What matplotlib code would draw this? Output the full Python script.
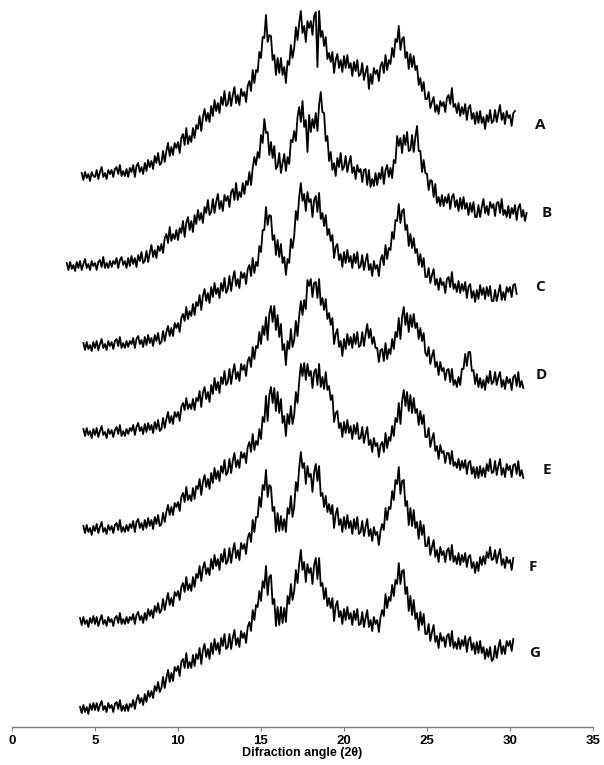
import numpy as np
import matplotlib
matplotlib.use("Agg")
import matplotlib.pyplot as plt

# ---- data: diffraction intensities (arbitrary units), 0.1 deg step ----
step = 0.1
labels = ["A", "B", "C", "D", "E", "F", "G"]
starts = [4.2, 3.3, 4.3, 4.3, 4.3, 4.1, 4.1]

int_A = [4, -3, 5, -1, 3, -4, 5, 1,
    0, 7, -2, 5, 10, 0, 4, -2, 7, 3,
    7, 0, 8, 10, 3, 12, 1, 6, 1, 8,
    0, 9, 5, 12, 0, 11, 14, 5, 10, 3,
    14, 6, 17, 10, 16, 8, 21, 14, 24, 12,
    14, 26, 15, 26, 34, 21, 30, 22, 34, 29,
    35, 24, 39, 43, 32, 49, 33, 41, 35, 49,
    39, 52, 48, 61, 46, 60, 68, 56, 64, 55,
    71, 61, 77, 66, 74, 64, 80, 72, 86, 71,
    73, 85, 71, 82, 90, 74, 82, 72, 88, 81,
    85, 75, 91, 96, 86, 107, 94, 107, 105, 125,
    119, 140, 139, 162, 135, 142, 141, 117, 122, 102,
    119, 104, 119, 102, 110, 94, 116, 112, 132, 119,
    129, 150, 137, 154, 166, 144, 151, 135, 156, 149,
    156, 142, 161, 165, 110, 166, 140, 146, 131, 140,
    118, 124, 115, 125, 104, 117, 123, 109, 117, 105,
    121, 109, 122, 109, 114, 101, 115, 106, 117, 101,
    103, 114, 97, 105, 111, 88, 103, 93, 109, 103,
    107, 96, 111, 115, 104, 122, 107, 117, 113, 129,
    120, 138, 135, 151, 127, 138, 140, 119, 125, 108,
    123, 110, 121, 107, 111, 92, 99, 86, 95, 78,
    78, 85, 69, 75, 80, 65, 72, 63, 76, 71,
    75, 65, 79, 82, 73, 89, 70, 73, 64, 74,
    61, 70, 63, 73, 57, 69, 72, 58, 64, 53,
    65, 54, 66, 54, 60, 48, 62, 55, 67, 54,
    56, 67, 55, 64, 72, 57, 64, 53, 66, 59,
    62, 51, 64, 66]

int_B = [4, -3, 5, -2, 2, -4, 5,
    -1, 6, -3, 3, 8, -1, 3, -3, 6, 1,
    4, -3, 5, 7, 0, 10, -1, 4, -1, 6,
    0, 6, 3, 9, -1, 7, 10, 2, 6, -1,
    9, 1, 11, 3, 9, 0, 12, 6, 15, 4,
    6, 16, 5, 14, 22, 10, 17, 9, 21, 16,
    23, 14, 29, 33, 24, 40, 26, 33, 28, 37,
    27, 39, 34, 46, 30, 44, 50, 37, 46, 35,
    52, 43, 57, 47, 54, 44, 60, 54, 67, 52,
    55, 68, 54, 65, 73, 58, 66, 56, 72, 66,
    71, 60, 75, 78, 67, 84, 67, 75, 70, 84,
    73, 86, 82, 95, 82, 99, 110, 102, 115, 109,
    132, 124, 148, 134, 135, 112, 125, 109, 121, 98,
    101, 114, 94, 104, 113, 96, 110, 103, 127, 125,
    136, 126, 150, 160, 145, 166, 140, 147, 115, 152,
    135, 148, 139, 154, 136, 162, 175, 155, 154, 126,
    131, 106, 115, 97, 104, 91, 109, 100, 114, 97,
    100, 111, 95, 104, 111, 94, 100, 88, 102, 95,
    98, 85, 97, 98, 82, 97, 80, 88, 81, 94,
    82, 94, 88, 100, 83, 97, 102, 90, 99, 89,
    107, 104, 131, 121, 129, 114, 132, 122, 135, 116,
    117, 132, 115, 130, 141, 116, 116, 95, 107, 94,
    93, 77, 87, 86, 70, 83, 64, 70, 61, 72,
    61, 70, 64, 73, 58, 70, 73, 60, 67, 56,
    69, 58, 70, 58, 64, 52, 64, 55, 65, 50,
    50, 62, 50, 60, 68, 54, 61, 52, 65, 59,
    63, 51, 64, 65, 54, 68, 52, 57, 50, 61,
    49, 59, 53, 62, 47, 59, 63, 50, 57, 46,
    54]

int_C = [4, -3, 5, -2, 2, -4, 5,
    -1, 6, -3, 3, 8, -1, 3, -3, 6, 1,
    5, -2, 6, 8, 1, 10, -1, 4, -1, 6,
    0, 6, 3, 9, -1, 8, 11, 3, 7, 0,
    10, 2, 12, 4, 9, 1, 12, 6, 14, 3,
    5, 16, 6, 15, 21, 11, 19, 11, 24, 19,
    24, 15, 29, 33, 26, 40, 28, 36, 31, 43,
    32, 45, 41, 52, 37, 51, 58, 46, 54, 44,
    60, 50, 64, 53, 59, 49, 64, 56, 69, 54,
    58, 71, 56, 68, 76, 61, 68, 59, 75, 69,
    74, 63, 78, 82, 71, 89, 74, 85, 81, 101,
    95, 117, 117, 140, 122, 132, 131, 107, 112, 92,
    107, 90, 103, 84, 90, 72, 88, 84, 108, 99,
    111, 136, 127, 150, 164, 146, 153, 136, 155, 145,
    148, 130, 147, 151, 135, 154, 128, 134, 121, 132,
    112, 118, 106, 112, 89, 100, 103, 87, 93, 80,
    95, 84, 97, 85, 91, 79, 93, 84, 95, 79,
    81, 92, 77, 86, 93, 77, 83, 71, 86, 78,
    82, 71, 87, 92, 82, 102, 88, 99, 97, 115,
    108, 127, 126, 143, 124, 136, 138, 117, 122, 101,
    113, 99, 109, 94, 98, 82, 93, 80, 89, 70,
    70, 79, 64, 72, 78, 62, 68, 57, 69, 62,
    65, 54, 68, 70, 60, 75, 58, 63, 55, 66,
    54, 63, 56, 65, 49, 60, 63, 49, 56, 45,
    57, 48, 62, 52, 59, 48, 60, 51, 61, 46,
    46, 57, 46, 54, 62, 47, 55, 47, 60, 55,
    60, 50, 62, 63, 53]

int_D = [6, -1, 7, 0, 4, -3, 6,
    0, 7, -2, 4, 9, 0, 3, -3, 6, 1,
    5, -2, 5, 8, 1, 10, -1, 4, -1, 6,
    1, 7, 4, 10, 0, 8, 12, 4, 8, 1,
    11, 3, 12, 5, 10, 2, 13, 6, 15, 4,
    6, 17, 7, 16, 23, 12, 19, 11, 23, 18,
    23, 14, 28, 32, 25, 37, 26, 31, 26, 36,
    25, 37, 34, 44, 28, 42, 48, 36, 43, 33,
    50, 41, 57, 45, 53, 42, 58, 51, 64, 50,
    53, 66, 51, 63, 71, 56, 63, 54, 71, 65,
    70, 59, 74, 78, 68, 88, 76, 89, 87, 103,
    91, 109, 100, 118, 95, 121, 129, 113, 129, 105,
    120, 98, 111, 85, 91, 70, 94, 86, 106, 88,
    95, 114, 99, 119, 134, 120, 135, 126, 155, 149,
    156, 138, 152, 153, 137, 156, 130, 137, 125, 136,
    116, 122, 110, 117, 91, 101, 106, 88, 94, 79,
    96, 86, 101, 90, 98, 87, 101, 91, 103, 88,
    90, 103, 89, 101, 111, 97, 106, 91, 98, 87,
    87, 73, 85, 86, 74, 92, 76, 86, 81, 96,
    86, 103, 98, 117, 96, 118, 128, 110, 122, 103,
    120, 108, 121, 107, 112, 96, 107, 94, 102, 82,
    79, 88, 71, 79, 85, 68, 73, 60, 73, 64,
    67, 55, 65, 66, 53, 66, 50, 55, 48, 58,
    50, 66, 66, 81, 69, 83, 83, 64, 65, 51,
    61, 48, 57, 47, 55, 45, 59, 52, 64, 51,
    53, 63, 50, 58, 63, 48, 55, 46, 58, 52,
    56, 45, 58, 60, 49, 63, 48, 54, 47]

int_E = [4, -3, 5, -2, 2, -5, 4,
    -1, 6, -3, 3, 8, -2, 2, -4, 5, 0,
    4, -3, 5, 7, 0, 10, -2, 3, -2, 5,
    -1, 6, 2, 9, -2, 8, 11, 2, 7, 0,
    10, 2, 12, 4, 10, 1, 13, 6, 15, 4,
    6, 17, 8, 18, 25, 15, 23, 15, 27, 23,
    28, 19, 33, 37, 28, 43, 30, 35, 29, 42,
    31, 44, 41, 51, 35, 48, 55, 43, 51, 41,
    57, 47, 62, 51, 59, 49, 64, 57, 70, 55,
    58, 71, 57, 69, 77, 63, 70, 62, 78, 72,
    77, 67, 83, 88, 78, 96, 80, 89, 85, 101,
    91, 113, 108, 134, 109, 135, 143, 127, 142, 119,
    138, 117, 131, 107, 114, 94, 116, 106, 124, 106,
    115, 138, 127, 148, 166, 154, 167, 150, 166, 154,
    159, 142, 158, 161, 145, 166, 143, 153, 141, 158,
    140, 144, 130, 135, 108, 117, 119, 102, 107, 93,
    108, 97, 110, 97, 104, 91, 105, 96, 107, 91,
    92, 103, 87, 96, 103, 85, 90, 78, 92, 84,
    87, 73, 85, 88, 78, 97, 82, 93, 89, 104,
    94, 112, 108, 127, 106, 129, 140, 124, 138, 119,
    135, 117, 132, 117, 121, 105, 119, 106, 115, 93,
    93, 102, 83, 91, 97, 79, 84, 71, 85, 77,
    79, 67, 77, 77, 66, 79, 64, 68, 62, 71,
    60, 69, 62, 70, 56, 67, 69, 56, 63, 52,
    63, 52, 64, 54, 62, 53, 66, 59, 71, 57,
    58, 69, 55, 64, 71, 55, 62, 53, 66, 60,
    64, 53, 65, 66, 56, 69, 54, 60, 52]

int_F = [4, -3, 5, -2, 2, -5, 4, -1, 6,
    -2, 5, -4, 2, 7, -2, 2, -4, 5, 0,
    3, -4, 4, 6, -1, 9, -2, 3, -2, 5,
    -1, 5, 2, 8, -2, 7, 10, 2, 6, -1,
    9, 2, 13, 6, 12, 4, 16, 10, 19, 9,
    12, 23, 12, 21, 29, 17, 24, 16, 30, 26,
    31, 22, 35, 39, 30, 45, 32, 38, 31, 45,
    35, 48, 44, 56, 41, 54, 60, 48, 54, 47,
    63, 53, 67, 56, 63, 52, 68, 60, 73, 58,
    61, 74, 59, 71, 79, 64, 72, 62, 79, 73,
    78, 68, 84, 89, 80, 102, 90, 105, 105, 125,
    115, 137, 132, 152, 125, 137, 135, 111, 115, 90,
    109, 91, 106, 92, 103, 90, 114, 108, 126, 105,
    115, 140, 131, 154, 170, 154, 159, 138, 156, 145,
    148, 130, 150, 158, 141, 156, 126, 129, 115, 126,
    110, 118, 108, 117, 94, 108, 114, 97, 103, 90,
    105, 93, 107, 94, 101, 88, 103, 93, 105, 88,
    90, 101, 86, 95, 103, 86, 93, 81, 95, 87,
    90, 77, 91, 98, 92, 114, 102, 115, 113, 131,
    122, 142, 138, 155, 128, 141, 142, 116, 121, 97,
    114, 96, 112, 94, 100, 83, 101, 87, 97, 76,
    76, 85, 67, 75, 82, 65, 72, 60, 75, 67,
    71, 60, 71, 74, 62, 77, 60, 66, 58, 69,
    57, 67, 60, 69, 55, 65, 67, 54, 60, 49,
    60, 51, 65, 57, 66, 58, 70, 64, 75, 62,
    63, 72, 59, 67, 73, 57, 63, 54, 65, 59,
    62, 52, 64]

int_G = [3, -3, 5, -2, 3, -4, 6, 0, 7,
    0, 7, -1, 5, 9, 0, 4, -2, 7, 2,
    5, -2, 6, 8, 1, 10, -1, 4, -1, 6,
    -1, 6, 3, 10, 1, 10, 15, 7, 12, 5,
    16, 8, 19, 13, 19, 12, 24, 19, 28, 18,
    22, 33, 22, 32, 40, 28, 37, 29, 43, 39,
    44, 34, 48, 51, 42, 57, 42, 48, 42, 55,
    44, 56, 51, 62, 46, 60, 66, 53, 61, 51,
    67, 56, 71, 60, 67, 56, 72, 64, 76, 61,
    63, 76, 61, 72, 80, 65, 72, 63, 79, 72,
    77, 67, 83, 88, 79, 100, 90, 105, 103, 119,
    109, 129, 122, 144, 115, 133, 135, 106, 111, 84,
    103, 85, 103, 87, 102, 88, 114, 106, 126, 110,
    119, 140, 127, 146, 160, 140, 148, 128, 146, 137,
    142, 126, 145, 152, 131, 152, 124, 127, 111, 122,
    104, 112, 102, 112, 89, 104, 109, 93, 99, 86,
    101, 90, 103, 91, 97, 85, 99, 90, 101, 85,
    86, 98, 83, 92, 100, 83, 90, 79, 93, 86,
    90, 78, 93, 100, 94, 116, 102, 113, 109, 125,
    114, 130, 126, 147, 126, 139, 140, 116, 123, 99,
    114, 95, 110, 91, 97, 80, 98, 85, 96, 76,
    76, 86, 69, 78, 85, 68, 74, 62, 77, 69,
    73, 63, 74, 76, 64, 79, 62, 68, 61, 72,
    61, 70, 64, 74, 58, 70, 73, 60, 67, 56,
    68, 57, 69, 57, 63, 51, 61, 53, 63, 49,
    51, 64, 52, 62, 70, 56, 64, 56, 69, 64,
    69, 59, 71]

series = [int_A, int_B, int_C, int_D, int_E, int_F, int_G]

x_ticks = [0, 5, 10, 15, 20, 25, 30, 35]
x_label = "Difraction angle (2θ)"

# ---- layout / style (not data) ----
offsets = [550, 460, 380, 292, 197, 105, 17]
label_pos = [(31.8, 602), (32.2, 514), (31.8, 440), (31.9, 352),
             (32.2, 257), (31.4, 160), (31.5, 74)]

fig = plt.figure(figsize=(6.04, 7.65), dpi=100)
ax = fig.add_axes([12 / 604, 38 / 765, 581 / 604, 727 / 765])

for vals, x0, off, lab, (lx, ly) in zip(series, starts, offsets, labels, label_pos):
    v = np.asarray(vals, dtype=float)
    x = x0 + step * np.arange(len(v))
    ax.plot(x, v + off, color="black", lw=1.3)
    ax.text(lx, ly, lab, fontsize=11, fontweight="bold", family="Open Sans",
            ha="center", va="center", color="#111111")

ax.set_xlim(0, 35)
ax.set_ylim(0, 727)
for s in ["top", "right", "left"]:
    ax.spines[s].set_visible(False)
ax.spines["bottom"].set_color("#7f7f7f")
ax.spines["bottom"].set_linewidth(1.0)
ax.set_yticks([])
ax.set_xticks(x_ticks)
ax.set_xticklabels([str(t) for t in x_ticks], fontsize=9.5, fontweight="bold",
                   family="Liberation Sans")
ax.tick_params(axis="x", direction="out", length=3, width=0.8, color="#7f7f7f", pad=3)
ax.set_xlabel(x_label, fontsize=9, fontweight="bold", family="Liberation Sans",
              labelpad=0)

fig.savefig("out.png", dpi=100)
